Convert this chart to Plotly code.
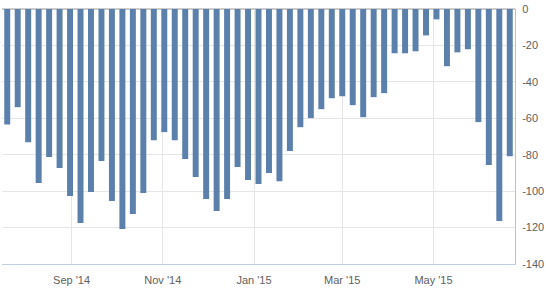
import plotly.graph_objects as go

dates = [
    "2014-07-20", "2014-07-27", "2014-08-03", "2014-08-10", "2014-08-17", "2014-08-24", "2014-08-31",
    "2014-09-07", "2014-09-14", "2014-09-21", "2014-09-28", "2014-10-05", "2014-10-12", "2014-10-19",
    "2014-10-26", "2014-11-02", "2014-11-09", "2014-11-16", "2014-11-23", "2014-11-30", "2014-12-07",
    "2014-12-14", "2014-12-21", "2014-12-28", "2015-01-04", "2015-01-11", "2015-01-18", "2015-01-25",
    "2015-02-01", "2015-02-08", "2015-02-15", "2015-02-22", "2015-03-01", "2015-03-08", "2015-03-15",
    "2015-03-22", "2015-03-29", "2015-04-05", "2015-04-12", "2015-04-19", "2015-04-26", "2015-05-03",
    "2015-05-10", "2015-05-17", "2015-05-24", "2015-05-31", "2015-06-07", "2015-06-14", "2015-06-21",
]
values = [
    -63.4, -53.9, -73.1, -95.5, -81.3, -87.3, -102.7,
    -117.5, -100.5, -83.5, -105.4, -120.8, -112.5, -101.0,
    -72.0, -67.6, -72.0, -82.4, -92.3, -104.3, -110.9,
    -104.3, -86.8, -93.9, -96.1, -90.1, -94.5, -78.0,
    -64.9, -59.9, -55.0, -49.0, -47.9, -52.8, -59.4,
    -48.4, -46.2, -24.3, -24.3, -23.2, -14.5, -5.7,
    -31.4, -23.8, -22.1, -62.1, -85.7, -116.4, -80.8,
]
tick_dates = ["2014-09-01", "2014-11-01", "2015-01-01", "2015-03-01", "2015-05-01"]
tick_labels = ["Sep '14", "Nov '14", "Jan '15", "Mar '15", "May '15"]
y_ticks = [0, -20, -40, -60, -80, -100, -120, -140]

fig = go.Figure(go.Bar(x=dates, y=values, marker_color="#5b80ab",
                       marker_line_width=0, hoverinfo="x+y"))

font = dict(family="Liberation Sans, Arial, sans-serif", size=11, color="#606060")
fig.update_layout(
    width=546, height=296,
    margin=dict(l=2, r=29, t=9, b=32),
    paper_bgcolor="white", plot_bgcolor="white",
    bargap=0.43, showlegend=False, font=font,
    xaxis=dict(
        type="date", range=["2014-07-16 12:00", "2015-06-24 12:00"],
        tickvals=tick_dates, ticktext=tick_labels,
        showgrid=True, gridcolor="#e6e6e6", gridwidth=1,
        showline=True, linecolor="#c0d0e0", linewidth=1,
        ticks="outside", ticklen=6, tickcolor="rgba(0,0,0,0)",
        zeroline=False, tickfont=font,
    ),
    yaxis=dict(
        side="right", range=[-140, 0], tickvals=y_ticks,
        ticktext=[str(v) for v in y_ticks],
        showgrid=True, gridcolor="#e6e6e6", gridwidth=1,
        showline=True, linecolor="#c0c0c0", linewidth=1,
        ticks="outside", ticklen=4, tickcolor="rgba(0,0,0,0)",
        zeroline=True, zerolinecolor="#cccccc", zerolinewidth=2,
        tickfont=font,
    ),
)

fig.write_html("out.html")
